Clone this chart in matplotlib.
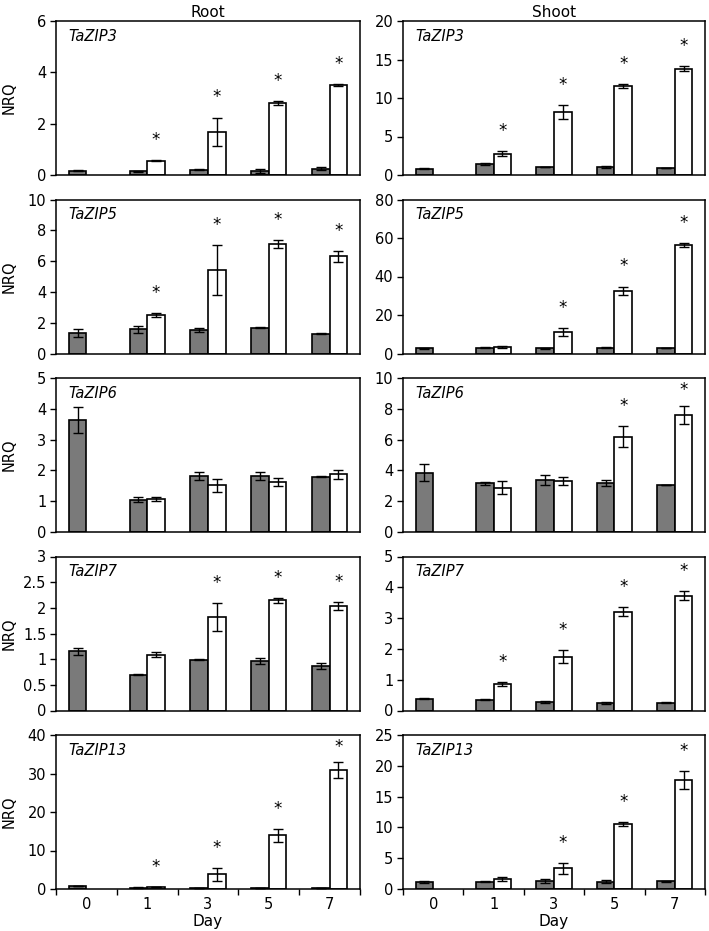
import numpy as np
import matplotlib
matplotlib.use('Agg')
import matplotlib.pyplot as plt
from matplotlib.ticker import MultipleLocator, FormatStrFormatter, FixedLocator

# the reference looks like a horizontally stretched Arial, DejaVu Sans is the closest wide sans
plt.rcParams['font.family'] = ['DejaVu Sans']

nan = np.nan
days = ['0', '1', '3', '5', '7']
genes = ['TaZIP3', 'TaZIP5', 'TaZIP6', 'TaZIP7', 'TaZIP13']

# one row per gene, one column per day
root_ctrl = [[0.17, 0.15, 0.21, 0.17, 0.25],
             [1.31, 1.57, 1.52, 1.67, 1.29],
             [3.64, 1.05, 1.81, 1.82, 1.80],
             [1.15, 0.70, 0.985, 0.96, 0.86],
             [0.7, 0.35, 0.25, 0.25, 0.2]]
root_ctrl_err = [[0.02, 0.02, 0.02, 0.08, 0.07],
                 [0.27, 0.22, 0.13, 0.03, 0.03],
                 [0.43, 0.08, 0.13, 0.12, 0.03],
                 [0.07, 0.01, 0.01, 0.06, 0.06],
                 [0.05, 0.05, 0.05, 0.05, 0.05]]
root_trt = [[nan, 0.56, 1.68, 2.81, 3.51],
            [nan, 2.49, 5.43, 7.10, 6.31],
            [nan, 1.07, 1.51, 1.62, 1.87],
            [nan, 1.09, 1.82, 2.15, 2.04],
            [nan, 0.5, 3.8, 13.9, 31.0]]
root_trt_err = [[nan, 0.02, 0.56, 0.07, 0.05],
                [nan, 0.13, 1.6, 0.27, 0.36],
                [nan, 0.06, 0.2, 0.12, 0.15],
                [nan, 0.05, 0.28, 0.05, 0.08],
                [nan, 0.1, 1.7, 1.6, 2.1]]
root_sig = [[0, 1, 1, 1, 1],
            [0, 1, 1, 1, 1],
            [0, 0, 0, 0, 0],
            [0, 0, 1, 1, 1],
            [0, 1, 1, 1, 1]]

shoot_ctrl = [[0.82, 1.47, 1.04, 1.04, 0.9],
              [2.6, 2.95, 2.6, 3.1, 2.8],
              [3.85, 3.15, 3.37, 3.2, 3.04],
              [0.38, 0.35, 0.27, 0.24, 0.25],
              [1.13, 1.2, 1.3, 1.2, 1.24]]
shoot_ctrl_err = [[0.05, 0.15, 0.05, 0.08, 0.05],
                  [0.2, 0.2, 0.2, 0.3, 0.2],
                  [0.55, 0.1, 0.33, 0.2, 0.02],
                  [0.02, 0.02, 0.03, 0.02, 0.02],
                  [0.1, 0.1, 0.25, 0.25, 0.05]]
shoot_trt = [[nan, 2.77, 8.14, 11.6, 13.8],
             [nan, 3.6, 11.0, 32.7, 56.3],
             [nan, 2.87, 3.3, 6.2, 7.57],
             [nan, 0.86, 1.75, 3.21, 3.73],
             [nan, 1.67, 3.34, 10.6, 17.7]]
shoot_trt_err = [[nan, 0.35, 0.9, 0.25, 0.35],
                 [nan, 0.5, 2.0, 2.1, 1.2],
                 [nan, 0.43, 0.27, 0.7, 0.58],
                 [nan, 0.06, 0.2, 0.15, 0.15],
                 [nan, 0.3, 0.86, 0.3, 1.4]]
shoot_sig = [[0, 1, 1, 1, 1],
             [0, 0, 1, 1, 1],
             [0, 0, 0, 1, 1],
             [0, 1, 1, 1, 1],
             [0, 0, 1, 1, 1]]

root_ymax = [6, 10, 5, 3, 40]
root_ystep = [2, 2, 1, 0.5, 10]
shoot_ymax = [20, 80, 10, 5, 25]
shoot_ystep = [5, 20, 2, 1, 5]

W, H = 709, 931
fig = plt.figure(figsize=(W / 100, H / 100), dpi=100)

col_x = [(56, 360), (403, 705)]
row_top0, row_h, row_pitch = 21, 154, 178.5
bw = 0.29


def draw_panel(ax, ctrl, ctrl_err, trt, trt_err, sig, ymax, ystep, gene, bottom):
    x = np.arange(len(days))
    ctrl = np.array(ctrl, dtype=float)
    trt = np.array(trt, dtype=float)
    ctrl_err = np.array(ctrl_err, dtype=float)
    trt_err = np.array(trt_err, dtype=float)
    ok = ~np.isnan(trt)

    ax.bar(x - bw / 2, ctrl, bw, color='#7a7a7a', edgecolor='black', linewidth=1.2, zorder=2)
    ax.errorbar(x - bw / 2, ctrl, yerr=ctrl_err, fmt='none', ecolor='black',
                elinewidth=1, capsize=3.5, capthick=1, zorder=3)
    ax.bar(x[ok] + bw / 2, trt[ok], bw, color='white', edgecolor='black', linewidth=1.2, zorder=2)
    ax.errorbar(x[ok] + bw / 2, trt[ok], yerr=trt_err[ok], fmt='none', ecolor='black',
                elinewidth=1, capsize=3.5, capthick=1, zorder=3)

    # significance stars sit above the error bar, kept inside the frame
    for i in range(len(days)):
        if sig[i]:
            y = min(trt[i] + trt_err[i] + 0.13 * ymax, 0.92 * ymax)
            ax.text(x[i] + bw / 2, y, '*', ha='center', va='center', fontsize=12)

    ax.set_xlim(-0.5, len(days) - 0.5)
    ax.set_ylim(0, ymax)
    ax.yaxis.set_major_locator(MultipleLocator(ystep))
    ax.yaxis.set_major_formatter(FormatStrFormatter('%g'))
    ax.tick_params(axis='y', direction='out', length=4, width=1, labelsize=10.5, pad=3)
    for s in ax.spines.values():
        s.set_linewidth(1.1)

    ax.text(0.04, 0.9, gene, transform=ax.transAxes, fontsize=10.5,
            style='italic', ha='left', va='center')

    if bottom:
        ax.set_xticks(x)
        ax.set_xticklabels(days)
        ax.xaxis.set_minor_locator(FixedLocator(np.arange(-0.5, len(days), 1.0)))
        ax.tick_params(axis='x', which='major', length=0, labelsize=10.5, pad=6)
        ax.tick_params(axis='x', which='minor', direction='out', length=4, width=1)
        ax.set_xlabel('Day', fontsize=11, labelpad=1)
    else:
        ax.set_xticks([])


tissues = [(root_ctrl, root_ctrl_err, root_trt, root_trt_err, root_sig, root_ymax, root_ystep, 'Root'),
           (shoot_ctrl, shoot_ctrl_err, shoot_trt, shoot_trt_err, shoot_sig, shoot_ymax, shoot_ystep, 'Shoot')]

for c, (ctrl, ce, trt, te, sig, ymax, ystep, name) in enumerate(tissues):
    x0, x1 = col_x[c]
    for r in range(len(genes)):
        top = row_top0 + r * row_pitch
        ax = fig.add_axes([x0 / W, 1 - (top + row_h) / H, (x1 - x0) / W, row_h / H])
        draw_panel(ax, ctrl[r], ce[r], trt[r], te[r], sig[r], ymax[r], ystep[r],
                   genes[r], r == len(genes) - 1)
        if r == 0:
            ax.set_title(name, fontsize=11, pad=3)
        if c == 0:
            ax.set_ylabel('NRQ', fontsize=10.5)
            ax.yaxis.set_label_coords(-0.128, 0.5)

fig.savefig('out.png', dpi=100)
